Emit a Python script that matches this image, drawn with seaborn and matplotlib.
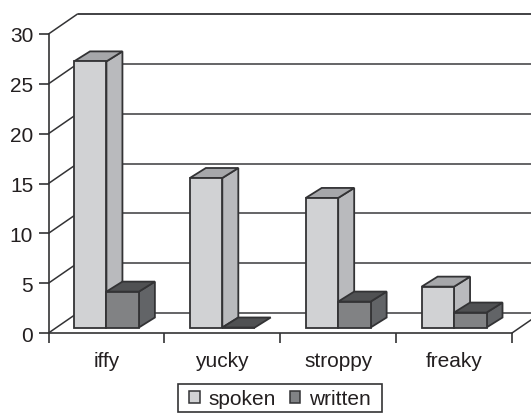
import matplotlib
matplotlib.use("Agg")
import matplotlib.pyplot as plt
from matplotlib.patches import Patch, Polygon, Rectangle
import pandas as pd
import seaborn as sns

words = ["iffy", "yucky", "stroppy", "freaky"]
spoken = [26.7, 15.0, 13.0, 4.1]
written = [3.6, 0.0, 2.6, 1.5]

W, H = 531, 414
sns.set_theme(style="white")
plt.rcParams["font.family"] = ["Liberation Sans", "DejaVu Sans"]

EDGE = "#333335"
TEXT = "#231f20"
GRID = "#58585a"
LW = 1.3
FACES = {
    "spoken": ("#d1d2d4", "#b9babd", "#a6a7aa"),
    "written": ("#808285", "#626467", "#505153"),
}

fig = plt.figure(figsize=(W / 100, H / 100), dpi=100, facecolor="white")
ax = fig.add_axes([48.5 / W, 1 - 334 / H, (512 - 48.5) / W, (334 - 35) / H])

df = pd.DataFrame({
    "word": words * 2,
    "series": ["spoken"] * 4 + ["written"] * 4,
    "count": spoken + written,
})
sns.barplot(data=df, x="word", y="count", hue="series", hue_order=["spoken", "written"],
            palette={k: v[0] for k, v in FACES.items()}, width=0.56, gap=0,
            edgecolor=EDGE, linewidth=LW, legend=False, ax=ax, native_scale=False)

ax.set_xlim(-0.5, 3.5)
ax.set_ylim(0, 30)

# Pixel-to-data conversion for the oblique projection
px_x = 4 / (512 - 48.5)
px_y = 30 / (334 - 35)
wall_dx, wall_dy = 29 * px_x, 20 * px_y
bar_dx, bar_dy = 16 * px_x, 10 * px_y
lift = 5.5 * px_y

# Back wall, gridlines and their floor-to-wall connectors
xl, xr = -0.5, 3.5
for v in range(0, 31, 5):
    ax.plot([xl, xl + wall_dx], [v, v + wall_dy], color=EDGE, lw=1.1, clip_on=False, zorder=1)
    ax.plot([xl + wall_dx, xr + wall_dx], [v + wall_dy] * 2, color=GRID if v < 30 else EDGE,
            lw=1.3, clip_on=False, zorder=1, solid_capstyle="butt")
ax.plot([xr, xr + wall_dx], [0, wall_dy], color=EDGE, lw=1.1, clip_on=False, zorder=1)

# Bars: lift the front faces off the floor and add the side and top faces
names = ["spoken"] * 4 + ["written"] * 4
bars = [p for p in ax.patches][:8]
for bar, name in zip(bars, names):
    base = 0.0 if name == "spoken" else 0.4
    h = bar.get_height()
    bar.set_y(lift)
    bar.set_zorder(3.1 + base)
    x0, x1 = bar.get_x(), bar.get_x() + bar.get_width()
    y0, y1 = lift, lift + h
    front, side, top = FACES[name]
    if h > 0:
        ax.add_patch(Polygon([(x1, y0), (x1 + bar_dx, y0 + bar_dy), (x1 + bar_dx, y1 + bar_dy), (x1, y1)],
                             facecolor=side, edgecolor=EDGE, lw=LW, zorder=3 + base, clip_on=False))
    ax.add_patch(Polygon([(x0, y1), (x0 + bar_dx, y1 + bar_dy), (x1 + bar_dx, y1 + bar_dy), (x1, y1)],
                         facecolor=top, edgecolor=EDGE, lw=LW, zorder=3 + base, clip_on=False))
    bar.set_clip_on(False)

# Axes
sns.despine(ax=ax)
for s in ("left", "bottom"):
    ax.spines[s].set_color(EDGE)
    ax.spines[s].set_linewidth(1.2)
ax.set_xlabel("")
ax.set_ylabel("")
ax.set_yticks(range(0, 31, 5))
ax.set_xticks([-0.5, 0.5, 1.5, 2.5, 3.5], labels=[""] * 5)
ax.set_xticks([0, 1, 2, 3], labels=words, minor=True)
ax.tick_params(axis="y", which="major", left=True, length=7, width=1.2, color=EDGE,
               labelsize=15, labelcolor=TEXT, pad=4)
ax.tick_params(axis="x", which="major", bottom=True, length=7, width=1.2, color=EDGE)
ax.tick_params(axis="x", which="minor", bottom=False, length=0, labelsize=15, labelcolor=TEXT, pad=13)
ax.grid(False)
ax.patch.set_alpha(0)

# Legend: entries plus a separate, tightly fitted frame
handles = [Patch(facecolor=FACES[k][0], edgecolor=EDGE, lw=1.1, label=k) for k in FACES]
fig.legend(handles=handles, loc="center", bbox_to_anchor=(280 / W, 1 - 399.5 / H),
           ncol=2, frameon=False, fontsize=15,
           handlelength=0.5, handleheight=0.5, handletextpad=0.43, columnspacing=0.67,
           borderpad=0, borderaxespad=0, labelcolor=TEXT)
fig.add_artist(Rectangle((178 / W, 1 - 413 / H), 204 / W, 28 / H, transform=fig.transFigure,
                         fill=False, edgecolor=EDGE, lw=1.2))

fig.savefig("out.png", dpi=100, facecolor="white")
